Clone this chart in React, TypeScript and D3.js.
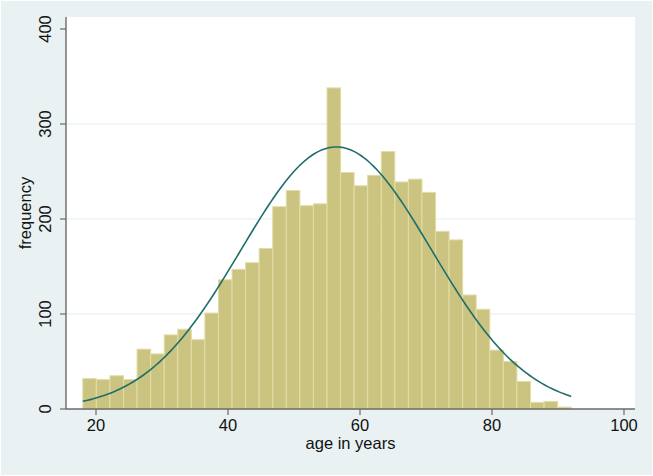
import React from "react";
import * as d3 from "d3";

// Histogram of age (36 bins from 18 to 92)
const binStart = 18;
const binEnd = 92;
const counts = [
  32, 31, 35, 31, 63, 58, 78, 84, 73, 101, 136, 147, 154, 169, 213, 230, 214, 216,
  338, 249, 235, 246, 271, 239, 242, 228, 187, 178, 120, 105, 62, 50, 29, 7, 8, 2,
];
// fitted normal density overlay
const normalMean = 56.4;
const normalSd = 14.45;

const xTicks = [20, 40, 60, 80, 100];
const yTicks = [0, 100, 200, 300, 400];
const gridTicks = [100, 200, 300];

const W = 653;
const H = 476;
const FONT = "'Liberation Sans', Arial, Helvetica, sans-serif";

export default function App() {
  const x = d3.scaleLinear().domain([20, 100]).range([96, 624]);
  const y = d3.scaleLinear().domain([0, 400]).range([409, 29]);
  const plotL = 66, plotR = 635, plotT = 17, plotB = 409;

  const binW = (binEnd - binStart) / counts.length;
  const N = d3.sum(counts);
  const bars = counts.map((c, i) => ({ x0: binStart + i * binW, x1: binStart + (i + 1) * binW, c }));

  const curvePts = d3.range(0, 201).map((i) => {
    const v = binStart + ((binEnd - binStart) * i) / 200;
    const z = (v - normalMean) / normalSd;
    const dens = (N * binW) / (normalSd * Math.sqrt(2 * Math.PI)) * Math.exp(-0.5 * z * z);
    return [v, dens] as [number, number];
  });
  const line = d3.line<[number, number]>().x((d) => x(d[0])).y((d) => y(d[1])).curve(d3.curveLinear);

  const axisColor = "#6a6a6a";

  return (
    <svg width={W} height={H} style={{ position: "absolute", left: 0, top: 0 }} fontFamily={FONT}>
      <rect x={0} y={0} width={W} height={H} fill="#ffffff" />
      <rect x={1} y={1} width={W - 2} height={H - 2} fill="#E9F1F3" />
      <rect x={plotL} y={plotT} width={plotR - plotL} height={plotB - plotT} fill="#ffffff" />
      {gridTicks.map((t) => (
        <line key={t} x1={plotL} x2={plotR} y1={y(t)} y2={y(t)} stroke="#E4EEF1" strokeWidth={1.2} />
      ))}
      {bars.map((b, i) => (
        <rect
          key={i}
          x={x(b.x0)}
          y={y(b.c)}
          width={x(b.x1) - x(b.x0)}
          height={y(0) - y(b.c)}
          fill="#CBC480"
          stroke="#E3DDA8"
          strokeWidth={1}
        />
      ))}
      <path d={line(curvePts) || ""} fill="none" stroke="#1E6E69" strokeWidth={1.6} />
      {/* axes */}
      <line x1={plotL} x2={plotL} y1={plotT} y2={plotB} stroke={axisColor} strokeWidth={1.4} />
      <line x1={plotL} x2={plotR} y1={plotB} y2={plotB} stroke={axisColor} strokeWidth={1.4} />
      {yTicks.map((t) => (
        <g key={t}>
          <line x1={plotL - 6} x2={plotL} y1={y(t)} y2={y(t)} stroke={axisColor} strokeWidth={1.2} />
          <text
            transform={`translate(51,${y(t)}) rotate(-90)`}
            textAnchor="middle"
            fontSize={16.5}
            fill="#111"
          >
            {t}
          </text>
        </g>
      ))}
      {xTicks.map((t) => (
        <g key={t}>
          <line x1={x(t)} x2={x(t)} y1={plotB} y2={plotB + 6} stroke={axisColor} strokeWidth={1.2} />
          <text x={x(t)} y={431} textAnchor="middle" fontSize={16.5} fill="#111">
            {t}
          </text>
        </g>
      ))}
      <text transform={`translate(31,${(plotT + plotB) / 2}) rotate(-90)`} textAnchor="middle" fontSize={16.5} fill="#111">
        frequency
      </text>
      <text x={(plotL + plotR) / 2} y={449} textAnchor="middle" fontSize={16.5} fill="#111">
        age in years
      </text>
    </svg>
  );
}
